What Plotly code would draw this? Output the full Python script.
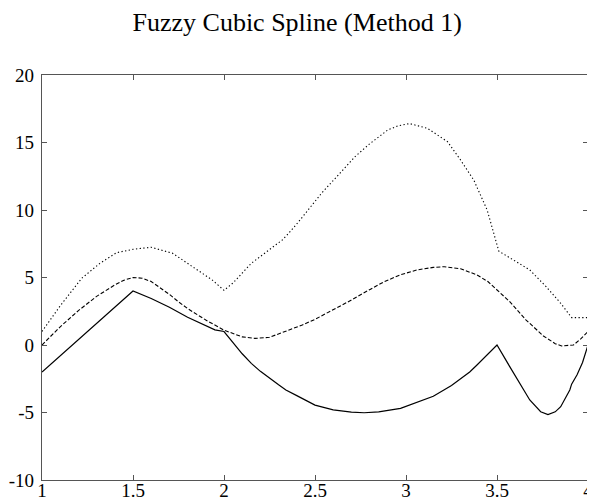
import plotly.graph_objects as go

title_text = "Fuzzy Cubic Spline (Method 1)"

x_tick_vals = [1, 1.5, 2, 2.5, 3, 3.5, 4]
x_tick_text = ["1", "1.5", "2", "2.5", "3", "3.5", "4"]
y_tick_vals = [-10, -5, 0, 5, 10, 15, 20]
y_tick_text = ["-10", "-5", "0", "5", "10", "15", "20"]

# solid curve
solid_x = [1.0, 1.1, 1.2, 1.3, 1.4, 1.5, 1.6, 1.7, 1.8, 1.9, 1.95, 2.0,
           2.05, 2.1, 2.15, 2.2, 2.3, 2.34, 2.4, 2.5, 2.6, 2.7, 2.77, 2.85,
           2.97, 3.06, 3.15, 3.25, 3.35, 3.39, 3.45, 3.5,
           3.57, 3.63, 3.68, 3.74, 3.78, 3.82, 3.85, 3.9, 3.91, 3.94, 3.97, 4.0]
solid_y = [-2.0, -0.8, 0.45, 1.65, 2.85, 4.0, 3.45, 2.8, 2.05, 1.4, 1.12, 1.0,
           0.15, -0.65, -1.36, -1.95, -2.95, -3.33, -3.75, -4.45, -4.8, -4.97, -5.02, -4.95,
           -4.69, -4.27, -3.8, -3.0, -2.0, -1.48, -0.7, 0.0,
           -1.6, -2.96, -4.07, -4.94, -5.15, -4.95, -4.57, -3.33, -2.9, -2.2, -1.3, 0.0]

# dashed curve
dashed_x = [1.0, 1.1, 1.2, 1.3, 1.4, 1.45, 1.5, 1.55, 1.6, 1.7, 1.75, 1.8, 1.9, 2.0,
            2.1, 2.17, 2.25, 2.35, 2.43, 2.5, 2.6, 2.7, 2.8, 2.88, 2.97, 3.06,
            3.15, 3.21, 3.3, 3.39, 3.45, 3.5, 3.57, 3.66, 3.755, 3.82, 3.855,
            3.92, 3.96, 4.0]
dashed_y = [0.0, 1.35, 2.55, 3.6, 4.45, 4.8, 5.0, 4.95, 4.7, 3.75, 3.2, 2.7, 1.85, 1.1,
            0.6, 0.49, 0.57, 1.05, 1.48, 1.9, 2.6, 3.33, 4.1, 4.69, 5.2, 5.56,
            5.75, 5.8, 5.65, 5.19, 4.7, 4.07, 3.21, 1.85, 0.67, 0.1, -0.07,
            0.0, 0.45, 1.0]

# dotted curve
dotted_x = [1.0, 1.1, 1.218, 1.318, 1.41, 1.5, 1.6, 1.718, 1.827, 1.936, 2.0,
            2.05, 2.15, 2.32, 2.355, 2.41, 2.536, 2.62, 2.72, 2.8, 2.9, 2.96, 3.02,
            3.118, 3.228, 3.3, 3.373, 3.446, 3.491, 3.51, 3.59, 3.68, 3.77, 3.85,
            3.91, 4.0]
dotted_y = [1.0, 2.9, 4.94, 6.05, 6.84, 7.09, 7.24, 6.79, 5.8, 4.81, 4.05,
            4.6, 6.05, 7.78, 8.27, 9.13, 11.24, 12.5, 13.95, 14.9, 15.93, 16.25, 16.4,
            16.05, 15.06, 13.7, 12.2, 10.0, 7.78, 6.95, 6.3, 5.56, 4.32, 3.09,
            2.03, 2.03]

fig = go.Figure()
fig.add_trace(go.Scatter(x=solid_x, y=solid_y, mode="lines",
                         line=dict(color="black", width=1.2)))
fig.add_trace(go.Scatter(x=dashed_x, y=dashed_y, mode="lines",
                         line=dict(color="black", width=1.1, dash="4px,2px")))
fig.add_trace(go.Scatter(x=dotted_x, y=dotted_y, mode="lines",
                         line=dict(color="black", width=1.1, dash="1.3px,2.4px")))

axis_common = dict(
    showgrid=False, zeroline=False, showline=True, linecolor="#555555", linewidth=1.3,
    mirror="ticks", ticks="inside", ticklen=5, tickwidth=1, tickcolor="#555555",
    tickfont=dict(family="Liberation Serif", size=19, color="black"),
    automargin=False,
)

fig.update_layout(
    width=595, height=497,
    margin=dict(l=34, r=15, t=67, b=25),
    paper_bgcolor="white", plot_bgcolor="white",
    showlegend=False,
    title=dict(text=title_text, x=0.486, xanchor="center", xref="container",
               y=1 - 14 / 497, yanchor="middle", yref="container",
               font=dict(family="Liberation Serif", size=26, color="black")),
    xaxis=dict(range=[1, 4], tickvals=x_tick_vals, ticktext=x_tick_text,
               ticklabelstandoff=-7, **axis_common),
    yaxis=dict(range=[-10, 20], tickvals=y_tick_vals, ticktext=y_tick_text,
               ticklabelstandoff=3, **axis_common),
)

fig.write_html("out.html")
